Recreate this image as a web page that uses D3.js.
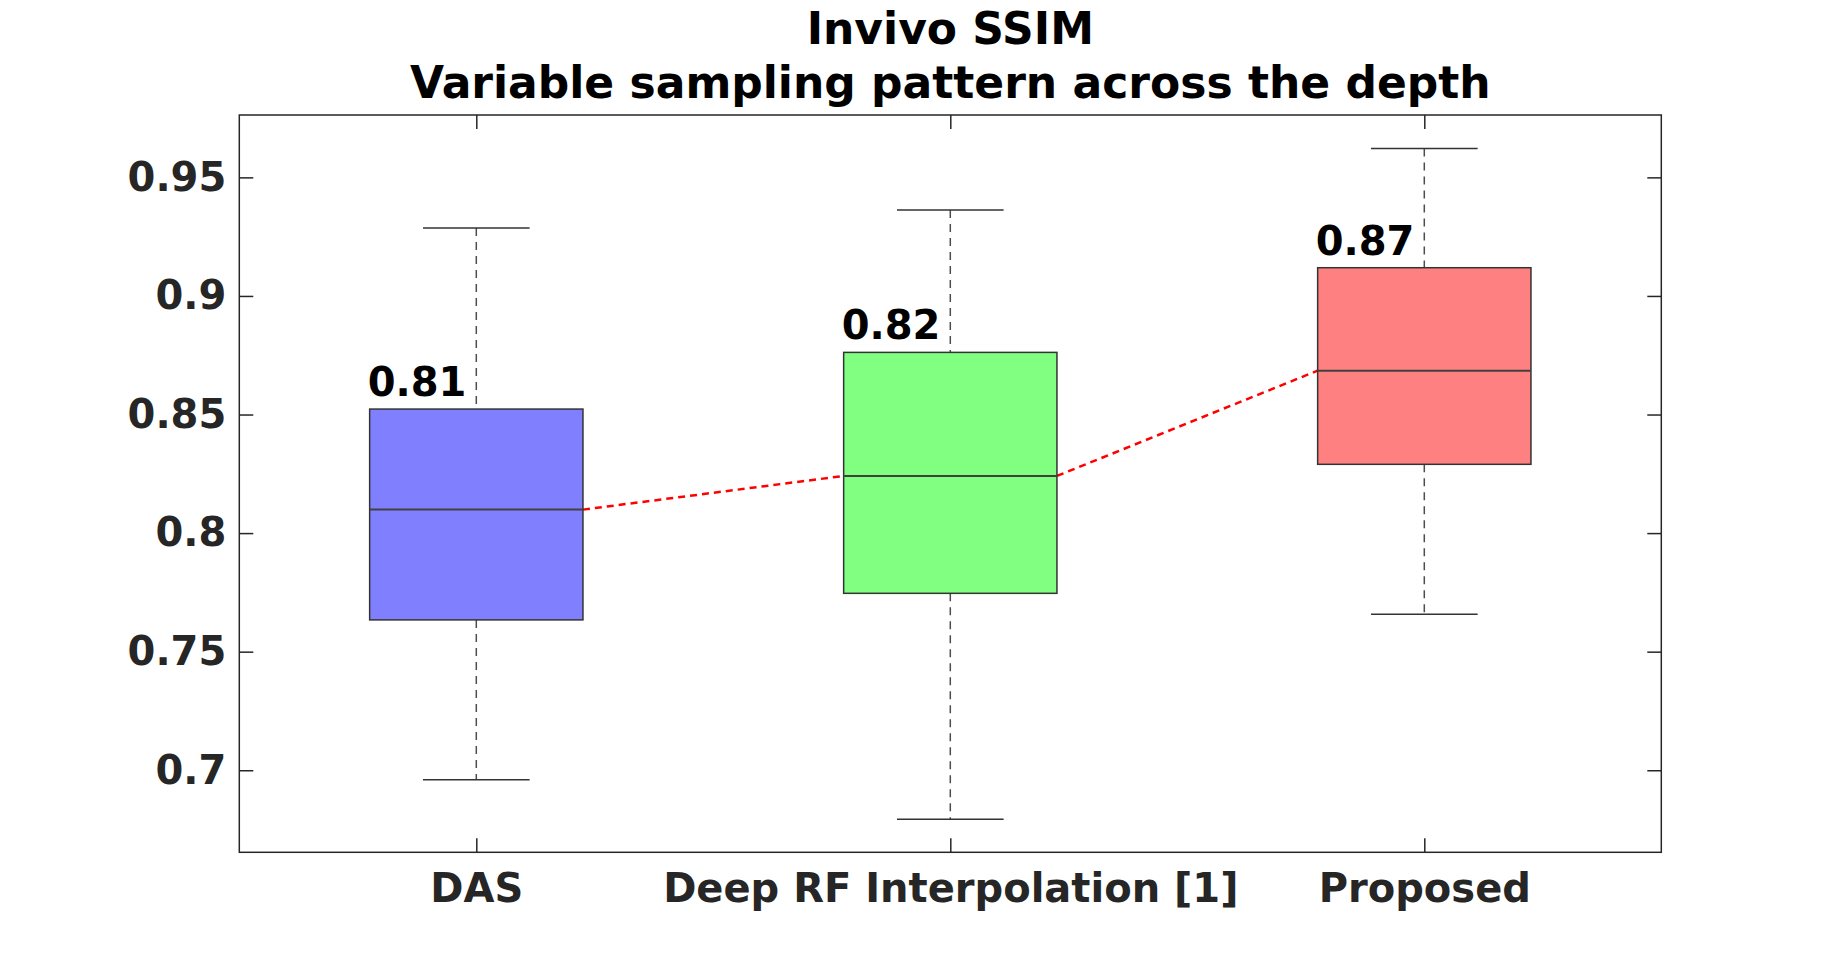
<!DOCTYPE html>
<html>
<head>
<meta charset="utf-8">
<script src="https://cdn.jsdelivr.net/npm/d3@7"></script>
<style>
  html, body { margin: 0; padding: 0; background: #fff; }
  svg { display: block; font-family: "DejaVu Sans", sans-serif; font-weight: bold; }
</style>
</head>
<body>
<script>
var categories = ["DAS", "Deep RF Interpolation [1]", "Proposed"];
var whiskerLow = [0.696, 0.6793, 0.7658];
var q1 = [0.7634, 0.7746, 0.829];
var medians = [0.8099, 0.8241, 0.8685];
var q3 = [0.8523, 0.8762, 0.9119];
var whiskerHigh = [0.9286, 0.9362, 0.9622];
var valueLabels = ["0.81", "0.82", "0.87"];
var boxColors = ["#8080ff", "#80ff80", "#ff8080"];
var yTicks = [0.7, 0.75, 0.8, 0.85, 0.9, 0.95];
var titleLines = ["Invivo SSIM", "Variable sampling pattern across the depth"];

var W = 1836, H = 958;
// plot box edges (window.top is read-only, so no plain "top" here)
var pLeft = 239.3, pRight = 1661.3, pTop = 115, pBottom = 852.3;
var boxW = 0.45, capW = 0.225, tickLen = 14;

var svg = d3.select("body").append("svg")
  .attr("width", W).attr("height", H);

var x = d3.scaleLinear().domain([0.5, 3.5]).range([pLeft, pRight]);
var y = d3.scaleLinear().domain([0.6654, 0.9763]).range([pBottom, pTop]);

var data = categories.map(function(c, i) {
  return {i: i + 1, name: c, lo: whiskerLow[i], q1: q1[i], med: medians[i],
    q3: q3[i], hi: whiskerHigh[i], label: valueLabels[i], color: boxColors[i]};
});

// whiskers (dashed) drawn first so boxes sit over them
var g = svg.append("g");
data.forEach(function(d) {
  g.append("line")
    .attr("x1", x(d.i)).attr("x2", x(d.i))
    .attr("y1", y(d.hi)).attr("y2", y(d.q3))
    .attr("stroke", "#4d4d4d").attr("stroke-width", 1.5)
    .attr("stroke-dasharray", "8,6");
  g.append("line")
    .attr("x1", x(d.i)).attr("x2", x(d.i))
    .attr("y1", y(d.q1)).attr("y2", y(d.lo))
    .attr("stroke", "#4d4d4d").attr("stroke-width", 1.5)
    .attr("stroke-dasharray", "8,6");
  [d.hi, d.lo].forEach(function(v) {
    g.append("line")
      .attr("x1", x(d.i - capW / 2)).attr("x2", x(d.i + capW / 2))
      .attr("y1", y(v)).attr("y2", y(v))
      .attr("stroke", "#333").attr("stroke-width", 1.5);
  });
});

// red dashed line joining medians between the boxes
var segs = [];
for (var k = 0; k < data.length - 1; k++) {
  segs.push([[data[k].i + boxW / 2, data[k].med], [data[k + 1].i - boxW / 2, data[k + 1].med]]);
}
var line = d3.line().x(function(p) { return x(p[0]); }).y(function(p) { return y(p[1]); });
g.selectAll("path.medline")
  .data(segs)
  .enter().append("path")
  .attr("class", "medline")
  .attr("d", line)
  .attr("fill", "none")
  .attr("stroke", "#ff0000")
  .attr("stroke-width", 2.5)
  .attr("stroke-dasharray", "7,5");

// boxes
g.selectAll("rect.box")
  .data(data)
  .enter().append("rect")
  .attr("class", "box")
  .attr("x", function(d) { return x(d.i - boxW / 2); })
  .attr("y", function(d) { return y(d.q3); })
  .attr("width", function(d) { return x(d.i + boxW / 2) - x(d.i - boxW / 2); })
  .attr("height", function(d) { return y(d.q1) - y(d.q3); })
  .attr("fill", function(d) { return d.color; })
  .attr("stroke", "#333")
  .attr("stroke-width", 1.5);

g.selectAll("line.median")
  .data(data)
  .enter().append("line")
  .attr("class", "median")
  .attr("x1", function(d) { return x(d.i - boxW / 2); })
  .attr("x2", function(d) { return x(d.i + boxW / 2); })
  .attr("y1", function(d) { return y(d.med); })
  .attr("y2", function(d) { return y(d.med); })
  .attr("stroke", "#404040")
  .attr("stroke-width", 2);

// value labels above boxes
g.selectAll("text.val")
  .data(data)
  .enter().append("text")
  .attr("class", "val")
  .attr("x", function(d) { return x(d.i - boxW / 2) - 2; })
  .attr("y", function(d) { return y(d.q3) - 13; })
  .attr("font-size", 40)
  .attr("fill", "#000")
  .text(function(d) { return d.label; });

// axes: box on, ticks pointing inwards
function styleAxis(sel) {
  sel.select(".domain").remove();
  sel.selectAll(".tick line").attr("stroke", "#262626").attr("stroke-width", 1.5);
  sel.selectAll(".tick text").attr("fill", "#262626").attr("font-size", 40)
    .attr("font-family", "DejaVu Sans").attr("font-weight", "bold");
}

svg.append("g").attr("transform", "translate(" + pLeft + ",0)")
  .call(d3.axisLeft(y).tickValues(yTicks).tickSizeInner(-tickLen).tickSizeOuter(0).tickPadding(13)
    .tickFormat(function(d) { return d3.format("")(+d.toFixed(2)); }))
  .call(styleAxis);
svg.append("g").attr("transform", "translate(" + pRight + ",0)")
  .call(d3.axisRight(y).tickValues(yTicks).tickSizeInner(-tickLen).tickSizeOuter(0).tickFormat(""))
  .call(styleAxis);
svg.append("g").attr("transform", "translate(0," + pBottom + ")")
  .call(d3.axisBottom(x).tickValues([1, 2, 3]).tickSizeInner(-tickLen).tickSizeOuter(0).tickPadding(0)
    .tickFormat(function(d) { return categories[d - 1]; }))
  .call(styleAxis)
  .selectAll(".tick text").attr("dy", null).attr("y", 50);
svg.append("g").attr("transform", "translate(0," + pTop + ")")
  .call(d3.axisTop(x).tickValues([1, 2, 3]).tickSizeInner(-tickLen).tickSizeOuter(0).tickFormat(""))
  .call(styleAxis);

svg.append("rect")
  .attr("x", pLeft).attr("y", pTop)
  .attr("width", pRight - pLeft).attr("height", pBottom - pTop)
  .attr("fill", "none").attr("stroke", "#262626").attr("stroke-width", 1.5);

// title
svg.append("g").selectAll("text")
  .data(titleLines)
  .enter().append("text")
  .attr("x", (pLeft + pRight) / 2)
  .attr("y", function(d, i) { return 44 + i * 54; })
  .attr("text-anchor", "middle")
  .attr("font-size", 44)
  .attr("fill", "#000")
  .text(function(d) { return d; });
</script>
</body>
</html>
